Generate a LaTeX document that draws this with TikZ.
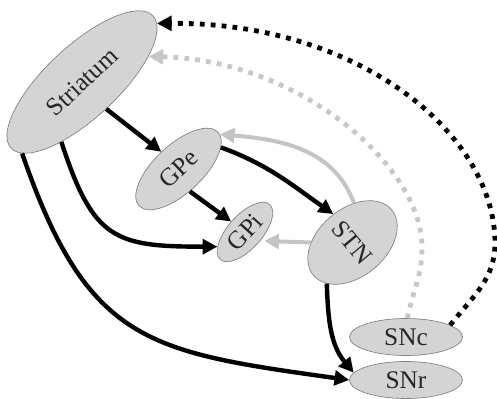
\documentclass[tikz,border=0pt]{standalone}
\usepackage{fontspec}
\setmainfont{Liberation Serif}
\usetikzlibrary{shapes.geometric,arrows.meta}
\tikzset{
  region/.style={ellipse, draw=black!50, line width=0.5pt, fill=black!17, inner sep=0pt,
    font=\fontsize{19}{22}\selectfont, text=black!85},
  blk/.style={line width=3.3pt, black, -{Triangle[length=11pt,width=11pt]}},
  gry/.style={line width=3pt, color=black!23, -{Triangle[length=11pt,width=11pt]}},
  blkdots/.style={line width=3.6pt, black, dash pattern=on 3.6pt off 4.6pt, -{Triangle[length=11pt,width=11pt]}},
  grydots/.style={line width=3.6pt, color=black!22, dash pattern=on 3.6pt off 4.6pt, -{Triangle[length=11pt,width=11pt]}}
}
\begin{document}
\begin{tikzpicture}[x=0.75pt,y=0.75pt]
\useasboundingbox (0,0) rectangle (497,-399);
% nodes
\node[region, minimum width=145.5pt, minimum height=54pt, rotate=43] (str) at (82,-82) {Striatum};
\node[region, minimum width=81pt, minimum height=36pt, rotate=43] (gpe) at (178.5,-169) {GPe};
\node[region, minimum width=55.5pt, minimum height=25.5pt, rotate=48] (gpi) at (245,-232) {GPi};
\node[region, minimum width=76.5pt, minimum height=49.5pt, rotate=40] (stn) at (352.5,-242.5) {\rotatebox{-90}{STN}};
\node[region, minimum width=84.75pt, minimum height=27.75pt] (snc) at (406,-337) {SNc};
\node[region, minimum width=84.75pt, minimum height=27.75pt] (snr) at (406,-380) {SNr};
% black connectors
\draw[blk] (str.-91) -- (gpe.92);
\draw[blk] (gpe.-106) -- (gpi.95);
\draw[blk] (gpe.-16) to[out=-20,in=145] (stn.84);
\draw[blk] (str.-152) to[out=-72,in=180,looseness=1.4] (gpi.160);
\draw[blk] (str.-173) to[out=-71,in=172,looseness=1.3] (snr.west);
\draw[blk] (stn.-162) to[out=-88,in=130] (snr.172);
% gray connectors
\draw[gry, shorten >=3pt] (stn.140) -- (gpi.-78);
\draw[gry] (stn.48) to[out=110,in=-5] (gpe.-3);
% dotted connectors
\draw[grydots] (snc.86) to[out=78,in=-90] (422,-247) .. controls (422,-167) and (300,-60) .. (str.-22);
\draw[blkdots] (snc.15) to[out=52,in=-90] (495,-243) .. controls (495,-135) and (360,-22) .. (str.-5);
\end{tikzpicture}
\end{document}
